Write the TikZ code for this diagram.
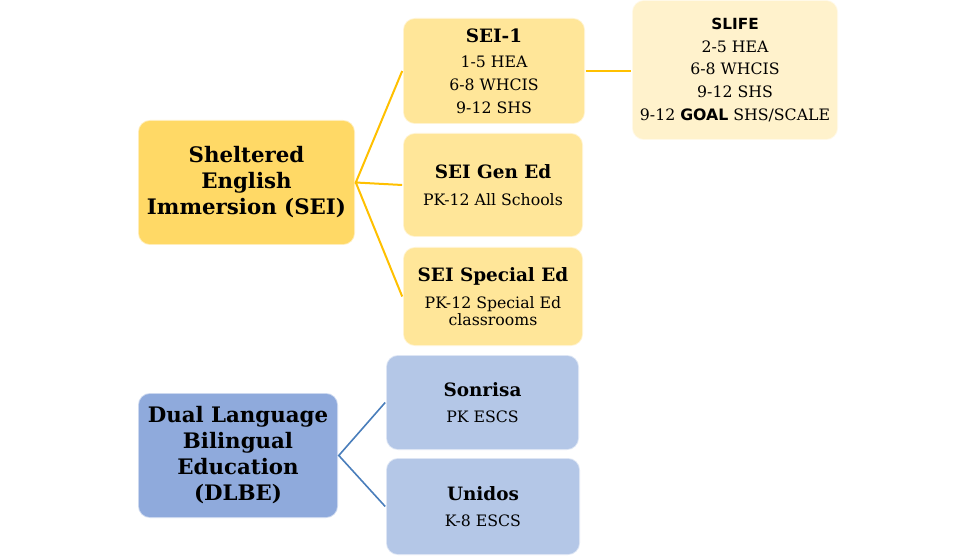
\documentclass[tikz,border=0pt]{standalone}
\usepackage{fontspec}
\setmainfont{DejaVu Serif}
\newfontfamily\slifefont{DejaVu Sans}

\definecolor{seimain}{RGB}{255,217,102}
\definecolor{seichild}{RGB}{255,230,153}
\definecolor{seipale}{RGB}{255,242,204}
\definecolor{seiline}{RGB}{255,192,0}
\definecolor{dlbemain}{RGB}{143,170,220}
\definecolor{dlbechild}{RGB}{180,199,231}
\definecolor{dlbeline}{RGB}{74,126,187}

\begin{document}
\begin{tikzpicture}[x=0.75pt,y=0.75pt,yscale=-1,xscale=1,
  box/.style={rounded corners=9pt,align=center,inner sep=2pt,
    draw=white,draw opacity=0.55,line width=1.2pt},
  mainbox/.style={box,font=\fontsize{16}{19.5}\selectfont\bfseries},
  subbox/.style={box,font=\fontsize{11.8}{17}\selectfont},
  seilink/.style={draw=seiline,line width=1.5pt},
  dlbelink/.style={draw=dlbeline,line width=1.2pt}]
\useasboundingbox (0,0) rectangle (975,556);

% SEI branch
\node [mainbox,fill=seimain,minimum width=162.75pt,minimum height=93.75pt] (sei) at (246.5,182.5)
  {Sheltered\\English\\Immersion (SEI)};
\node [subbox,fill=seichild,minimum width=136.5pt,minimum height=79.5pt] (seione) at (494,71)
  {{\fontsize{13.8}{17}\selectfont\bfseries SEI-1}\\[2pt]1-5 HEA\\6-8 WHCIS\\9-12 SHS};
\node [subbox,fill=seichild,minimum width=135pt,minimum height=78pt] (seigen) at (493,185)
  {{\fontsize{13.8}{17}\selectfont\bfseries SEI Gen Ed}\\[3pt]PK-12 All Schools};
\node [subbox,fill=seichild,minimum width=135pt,minimum height=74.25pt] (seispec) at (493,296.5)
  {{\fontsize{13.8}{17}\selectfont\bfseries SEI Special Ed}\\[3pt]PK-12 Special Ed\\[-4pt]classrooms};
\node [subbox,fill=seipale,minimum width=154.5pt,minimum height=105pt] (slife) at (735,70)
  {{\slifefont\fontsize{11.5}{17}\selectfont\bfseries SLIFE}\\2-5 HEA\\6-8 WHCIS\\9-12 SHS\\9-12 {\slifefont\bfseries GOAL} SHS/SCALE};

% DLBE branch
\node [mainbox,fill=dlbemain,minimum width=150pt,minimum height=93.75pt] (dlbe) at (238,455.5)
  {Dual Language\\Bilingual\\Education\\(DLBE)};
\node [subbox,fill=dlbechild,minimum width=144.75pt,minimum height=71.25pt] (sonrisa) at (482.5,402.5)
  {{\fontsize{13.8}{17}\selectfont\bfseries Sonrisa}\\[3pt]PK ESCS};
\node [subbox,fill=dlbechild,minimum width=145.5pt,minimum height=72.75pt] (unidos) at (483,506.5)
  {{\fontsize{13.8}{17}\selectfont\bfseries Unidos}\\[3pt]K-8 ESCS};

% connectors
\draw [seilink] (seione.west) -- (sei.east) -- (seigen.west);
\draw [seilink] (sei.east) -- (seispec.west);
\draw [seilink] (seione.east) -- (slife.west |- seione.east);
\draw [dlbelink] (sonrisa.west) -- (dlbe.east) -- (unidos.west);

\end{tikzpicture}
\end{document}
